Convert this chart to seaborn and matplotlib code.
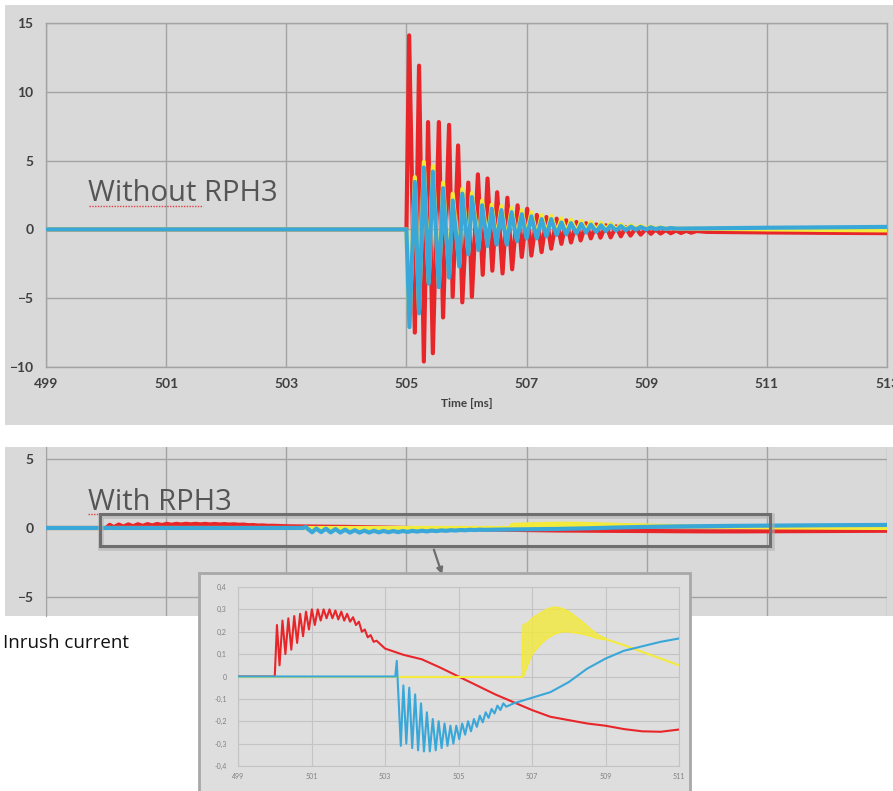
import matplotlib
matplotlib.use("Agg")
import matplotlib.pyplot as plt
import seaborn as sns
from matplotlib.patches import Rectangle

# ---------------- data ----------------
# Without RPH3 : extrema of the three phase currents [ms], [A*]
red_t = [499.0, 505.00, 505.045, 505.14, 505.21, 505.29, 505.36, 505.44, 505.54, 505.61,
         505.71, 505.77, 505.86, 505.93, 506.03, 506.09, 506.19, 506.27, 506.35, 506.43,
         506.51, 506.60, 506.68, 506.76, 506.85, 506.92, 507.01, 507.08, 507.17, 507.25,
         507.33, 507.41, 507.50, 507.58, 507.66, 507.74, 507.83, 507.90, 507.99, 508.07,
         508.16, 508.23, 508.32, 508.40, 508.49, 508.57, 508.65, 508.73, 508.82, 508.90,
         508.99, 509.07, 509.15, 509.23, 509.32, 509.40, 509.49, 509.57, 509.66, 509.74,
         509.83, 510.0, 510.5, 511.0, 512.0, 513.0]
red_v = [0, 0, 14.1, -7.5, 11.9, -9.6, 7.8, -9.0, 7.8, -6.4,
         7.6, -4.9, 6.1, -5.3, 3.4, -4.9, 4.0, -3.3, 3.7, -3.0,
         2.7, -3.2, 2.3, -2.9, 1.75, -2.0, 1.5, -1.9, 1.05, -1.65,
         0.9, -1.4, 0.78, -1.05, 0.66, -0.95, 0.54, -0.8, 0.45, -0.65,
         0.36, -0.6, 0.3, -0.58, 0.22, -0.5, 0.15, -0.45, 0.1, -0.38,
         0.05, -0.32, 0.0, -0.3, -0.05, -0.28, -0.08, -0.26, -0.1, -0.24,
         -0.12, -0.18, -0.2, -0.22, -0.25, -0.27]

by_t = [499.0, 505.0, 505.05, 505.14, 505.21, 505.29, 505.37, 505.44, 505.54, 505.61,
        505.71, 505.77, 505.88, 505.93, 506.03, 506.09, 506.20, 506.26, 506.35, 506.42,
        506.50, 506.58, 506.67, 506.75, 506.84, 506.92, 507.00, 507.08, 507.17, 507.25,
        507.33, 507.41, 507.50, 507.58, 507.66, 507.74, 507.83, 507.91, 507.99, 508.07,
        508.16, 508.24, 508.32, 508.40, 508.49, 508.57, 508.65, 508.74, 508.82, 508.90,
        508.99, 509.07, 509.15, 509.23, 509.32, 509.40, 509.5, 510.0, 511.0, 512.0, 513.0]
blue_v = [0, 0, -7.1, 3.45, -6.1, 4.5, -3.95, 4.2, -4.2, 3.0,
          -3.5, 2.1, -2.7, 2.6, -1.8, 2.35, -1.5, 1.75, -1.2, 1.5,
          -1.1, 1.4, -1.1, 1.25, -0.85, 1.1, -0.65, 0.95, -0.65, 0.75,
          -0.5, 0.75, -0.4, 0.5, -0.35, 0.45, -0.28, 0.4, -0.22, 0.35,
          -0.18, 0.3, -0.12, 0.28, -0.08, 0.24, -0.05, 0.2, -0.02, 0.18,
          0.0, 0.15, 0.02, 0.12, 0.04, 0.1, 0.06, 0.08, 0.12, 0.15, 0.18]
yellow_v = [0, 0, -6.9, 3.8, -5.9, 4.9, -3.8, 4.6, -4.0, 3.4,
            -3.3, 2.6, -2.5, 2.95, -1.6, 2.65, -1.3, 2.1, -1.0, 1.8,
            -0.9, 1.7, -0.9, 1.55, -0.7, 1.4, -0.5, 1.25, -0.5, 1.05,
            -0.35, 1.0, -0.25, 0.8, -0.2, 0.7, -0.15, 0.62, -0.1, 0.55,
            -0.06, 0.48, -0.02, 0.42, 0.0, 0.36, 0.02, 0.3, 0.03, 0.26,
            0.04, 0.2, 0.05, 0.15, 0.05, 0.1, 0.06, 0.05, 0.0, -0.04, -0.07]

# With RPH3
rr_t = [499.0, 500.0,
        500.06, 500.13, 500.21, 500.29, 500.37, 500.45, 500.53, 500.61, 500.69, 500.77, 500.85, 500.93,
        501.01, 501.09, 501.17, 501.25, 501.33, 501.41, 501.49, 501.57, 501.65, 501.73, 501.81, 501.89, 501.97,
        502.05, 502.13, 502.21, 502.29, 502.37, 502.45, 502.53, 502.61, 502.69, 502.77,
        503.0, 503.5, 504.0, 504.5, 505.0, 505.5, 506.0, 506.5, 507.0, 507.5,
        508.0, 508.5, 509.0, 509.5, 510.0, 510.5, 511.0, 512.0, 513.0]
rr_v = [0, 0,
        0.23, 0.05, 0.25, 0.10, 0.26, 0.12, 0.27, 0.15, 0.28, 0.18, 0.29, 0.21,
        0.30, 0.23, 0.30, 0.25, 0.30, 0.26, 0.30, 0.26, 0.295, 0.255, 0.29, 0.25, 0.28,
        0.245, 0.265, 0.23, 0.245, 0.20, 0.21, 0.175, 0.185, 0.155, 0.16,
        0.125, 0.097, 0.077, 0.04, 0.0, -0.04, -0.08, -0.115, -0.15, -0.18,
        -0.195, -0.21, -0.22, -0.235, -0.245, -0.247, -0.237, -0.22, -0.2]

rb_t = [499.0, 503.28, 503.32, 503.43, 503.50, 503.58, 503.66, 503.74, 503.82, 503.90,
        503.98, 504.06, 504.14, 504.22, 504.30, 504.38, 504.46, 504.54, 504.62, 504.70,
        504.78, 504.86, 504.94, 505.02, 505.10, 505.18, 505.26, 505.34, 505.42, 505.50,
        505.58, 505.66, 505.74, 505.82, 505.90, 505.98, 506.06, 506.14, 506.22, 506.30,
        506.5, 507.0, 507.5, 508.0, 508.5, 509.0, 509.5, 510.0, 510.5, 511.0, 512.0, 513.0]
rb_v = [0, 0, 0.07, -0.31, -0.04, -0.30, -0.05, -0.32, -0.08, -0.33,
        -0.12, -0.335, -0.16, -0.335, -0.19, -0.33, -0.20, -0.32, -0.21, -0.31,
        -0.22, -0.30, -0.22, -0.28, -0.21, -0.26, -0.20, -0.245, -0.19, -0.225,
        -0.175, -0.205, -0.16, -0.185, -0.145, -0.165, -0.13, -0.15, -0.12, -0.135,
        -0.12, -0.095, -0.07, -0.025, 0.035, 0.08, 0.115, 0.135, 0.155, 0.17, 0.2, 0.22]

ry_base_t = [499.0, 506.72]
ry_base_v = [0.0, 0.0]
ry_band_t = [506.72, 506.76, 506.9, 507.0, 507.2, 507.4, 507.6, 507.8, 508.0, 508.2, 508.4, 508.6, 508.8, 509.0]
ry_band_hi = [0.0, 0.23, 0.24, 0.26, 0.28, 0.30, 0.31, 0.305, 0.29, 0.265, 0.24, 0.21, 0.185, 0.17]
ry_band_lo = [0.0, 0.0, 0.06, 0.10, 0.14, 0.17, 0.19, 0.20, 0.20, 0.195, 0.19, 0.18, 0.17, 0.165]
ry_tail_t = [509.0, 509.5, 510.0, 510.5, 511.0, 512.0, 513.0]
ry_tail_v = [0.167, 0.14, 0.11, 0.08, 0.05, 0.02, 0.0]

x_ticks = [499, 501, 503, 505, 507, 509, 511, 513]
top_yticks = [-10, -5, 0, 5, 10, 15]
bot_yticks = [-5, 0, 5]
ins_xticks = [499, 501, 503, 505, 507, 509, 511]
ins_yticks = [-0.4, -0.3, -0.2, -0.1, 0.0, 0.1, 0.2, 0.3, 0.4]
ins_ylabels = ["-0,4", "-0,3", "-0,2", "-0,1", "0", "0,1", "0,2", "0,3", "0,4"]

# ---------------- style ----------------
RED, YEL, BLU = "#e8262a", "#f3ea3c", "#3aa7d9"
PANEL = "#d9d9d9"
GRID = "#a3a3a3"
LABEL = "#404040"

sns.set_style("white")
plt.rcParams["font.family"] = ["Lato", "DejaVu Sans"]

W, H = 893, 791
fig = plt.figure(figsize=(W / 100, H / 100), dpi=100, facecolor="white")


def add_ax(l, t, r, b, z=1):
    ax = fig.add_axes([l / W, 1 - b / H, (r - l) / W, (b - t) / H])
    ax.set_zorder(z)
    return ax


def frect(l, t, r, b, **kw):
    rc = Rectangle((l / W, 1 - b / H), (r - l) / W, (b - t) / H, transform=fig.transFigure, **kw)
    fig.patches.append(rc)
    return rc


# panel backgrounds
frect(5, 5, 893, 425, facecolor=PANEL, edgecolor="none", zorder=-5)
frect(5, 447, 893, 616, facecolor=PANEL, edgecolor="none", zorder=-5)


def line(ax, x, y, c, lw, z):
    sns.lineplot(x=x, y=y, ax=ax, color=c, linewidth=lw, estimator=None, sort=False, zorder=z)


# ---------------- top: Without RPH3 ----------------
ax1 = add_ax(46, 23, 887, 367, z=1)
ax1.set_facecolor("none")
line(ax1, red_t, red_v, RED, 3.0, 3)
line(ax1, by_t, yellow_v, YEL, 3.0, 4)
line(ax1, by_t, blue_v, BLU, 3.0, 5)
ax1.set_xlim(499, 513)
ax1.set_ylim(-10, 15)
ax1.set_xticks(x_ticks)
ax1.set_yticks(top_yticks)
ax1.grid(True, color=GRID, lw=1.0)
ax1.set_axisbelow(True)
for s in ax1.spines.values():
    s.set_color(GRID)
    s.set_linewidth(1.0)
ax1.tick_params(axis="y", length=0, pad=9, labelsize=10, labelcolor=LABEL)
ax1.tick_params(axis="x", length=5, color=GRID, pad=3, labelsize=10, labelcolor=LABEL)
for lab in ax1.get_xticklabels() + ax1.get_yticklabels():
    lab.set_fontweight("bold")
ax1.set_xlabel("Time [ms]", fontsize=8.5, fontweight="bold", color=LABEL, labelpad=6)
ax1.set_ylabel("")

fig.text(88 / W, 1 - 201 / H, "Without RPH3", fontsize=21, color="#555555",
         family=["Open Sans", "DejaVu Sans"], ha="left", va="baseline", zorder=6)
fig.lines.append(plt.Line2D([89 / W, 203 / W], [1 - 206 / H, 1 - 206 / H], transform=fig.transFigure,
                            color="#e04040", lw=1.0, ls=(0, (1, 1)), zorder=6))

# ---------------- bottom: With RPH3 ----------------
ax2 = add_ax(46, 447, 887, 616, z=1)
ax2.set_facecolor("none")
line(ax2, rr_t, rr_v, RED, 3.0, 3)
line(ax2, ry_base_t, ry_base_v, YEL, 3.0, 4)
ax2.fill_between(ry_band_t, ry_band_lo, ry_band_hi, color=YEL, lw=0, zorder=4)
line(ax2, ry_band_t, ry_band_hi, YEL, 3.0, 4)
line(ax2, ry_band_t, ry_band_lo, YEL, 3.0, 4)
line(ax2, ry_tail_t, ry_tail_v, YEL, 3.0, 4)
line(ax2, rb_t, rb_v, BLU, 3.0, 5)
ax2.set_xlim(499, 513)
ax2.set_ylim(-6.38, 5.87)
ax2.set_xticks(x_ticks)
ax2.set_yticks(bot_yticks)
ax2.set_xticklabels([])
ax2.grid(True, color=GRID, lw=1.0)
ax2.set_axisbelow(True)
for k, s in ax2.spines.items():
    s.set_visible(k == "left")
    s.set_color(GRID)
ax2.tick_params(axis="y", length=0, pad=9, labelsize=10, labelcolor=LABEL)
ax2.tick_params(axis="x", length=0)
for lab in ax2.get_yticklabels():
    lab.set_fontweight("bold")
ax2.set_xlabel("")
ax2.set_ylabel("")

fig.text(88 / W, 1 - 510 / H, "With RPH3", fontsize=21, color="#555555",
         family=["Open Sans", "DejaVu Sans"], ha="left", va="baseline", zorder=6)
fig.lines.append(plt.Line2D([88 / W, 110 / W], [1 - 514 / H, 1 - 514 / H], transform=fig.transFigure,
                            color="#e04040", lw=1.0, ls=(0, (1, 1)), zorder=6))

# highlight box + arrow
frect(101, 516, 772, 548, facecolor="none", edgecolor="#b0b0b0", lw=4, alpha=0.6, zorder=6)
frect(100, 514, 770, 546, facecolor="none", edgecolor="#6e6e6e", lw=2.2, zorder=7)
fig.patches.append(matplotlib.patches.FancyArrowPatch(
    (433 / W, 1 - 547 / H), (443 / W, 1 - 577 / H), transform=fig.transFigure,
    arrowstyle="-|>", mutation_scale=9, color="#6e6e6e", lw=1.6, zorder=7))

fig.text(3 / W, 1 - 648 / H, "Inrush current", fontsize=13.5, color="#111111",
         family=["Open Sans", "DejaVu Sans"], ha="left", va="baseline", zorder=6)

# ---------------- inset ----------------
frect(199, 573, 690, 800, facecolor="#dedede", edgecolor="#a8a8a8", lw=2, zorder=8)
ax3 = add_ax(238, 587, 679, 766, z=9)
ax3.set_facecolor("none")
line(ax3, rr_t, rr_v, RED, 1.5, 3)
line(ax3, ry_base_t, ry_base_v, YEL, 1.5, 4)
ax3.fill_between(ry_band_t, ry_band_lo, ry_band_hi, color=YEL, lw=0, alpha=0.8, zorder=4)
line(ax3, ry_band_t, ry_band_hi, YEL, 1.2, 4)
line(ax3, ry_band_t, ry_band_lo, YEL, 1.2, 4)
line(ax3, ry_tail_t, ry_tail_v, YEL, 1.5, 4)
line(ax3, rb_t, rb_v, BLU, 1.5, 5)
ax3.set_xlim(499, 511)
ax3.set_ylim(-0.4, 0.4)
ax3.set_xticks(ins_xticks)
ax3.set_yticks(ins_yticks)
ax3.set_yticklabels(ins_ylabels)
ax3.grid(True, color="#c4c4c4", lw=0.8)
ax3.set_axisbelow(True)
for s in ax3.spines.values():
    s.set_color("#c4c4c4")
    s.set_linewidth(0.8)
ax3.tick_params(axis="both", length=0, labelsize=5, labelcolor="#808080")
ax3.tick_params(axis="y", pad=8)
ax3.tick_params(axis="x", pad=5)
ax3.set_xlabel("")
ax3.set_ylabel("")

fig.savefig("out.png", dpi=100, facecolor="white")
